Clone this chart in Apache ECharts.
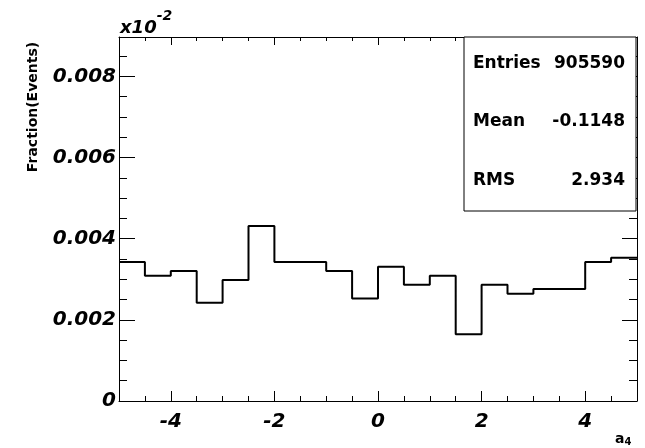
<!DOCTYPE html>
<html>
<head>
<meta charset="utf-8">
<script src="https://cdn.jsdelivr.net/npm/echarts@6/dist/echarts.min.js"></script>
<style>html,body{margin:0;padding:0;background:#fff}#c{width:645px;height:448px}</style>
</head>
<body>
<div id="c"></div>
<script>
// Histogram bin left edges (bin width 0.5) and fractions per bin
const binEdges = [-5, -4.5, -4, -3.5, -3, -2.5, -2, -1.5, -1, -0.5, 0, 0.5, 1, 1.5, 2, 2.5, 3, 3.5, 4, 4.5];
const xMaxEdge = 5;
const fractions = [0.003424, 0.003086, 0.003202, 0.002420, 0.002980, 0.004313, 0.003424, 0.003424, 0.003202, 0.002527,
                   0.003309, 0.002864, 0.003086, 0.001646, 0.002864, 0.002642, 0.002757, 0.002757, 0.003424, 0.003531];
const xMajorTicks = [-4, -2, 0, 2, 4];
const xMinorTicks = [-4.5, -4, -3.5, -3, -2.5, -2, -1.5, -1, -0.5, 0, 0.5, 1, 1.5, 2, 2.5, 3, 3.5, 4, 4.5];
const yMajorTicks = [0, 0.002, 0.004, 0.006, 0.008];
const yMinorTicks = [0.0005, 0.001, 0.0015, 0.002, 0.0025, 0.003, 0.0035, 0.004, 0.0045, 0.005, 0.0055, 0.006, 0.0065, 0.007, 0.0075, 0.008, 0.0085];
const yMax = 0.00897;
const statsLabels = ['Entries', 'Mean', 'RMS'];
const statsValues = ['905590', '-0.1148', '2.934'];

const histData = binEdges.map((x, i) => [x, fractions[i]]);
histData.push([xMaxEdge, fractions[fractions.length - 1]]);

const FONT = 'DejaVu Sans';
const lineStyle = { color: '#000', width: 1 };

function xAx(pos, ticks, len, labels, line) {
  return {
    type: 'value', position: pos, min: -5, max: 5,
    axisLine: { show: line, onZero: false, lineStyle: lineStyle },
    axisTick: { show: true, inside: true, length: len, customValues: ticks, lineStyle: lineStyle },
    axisLabel: labels ? {
      show: true, customValues: xMajorTicks, color: '#000', fontFamily: FONT,
      fontWeight: 'bold', fontStyle: 'italic', fontSize: 20, margin: 11
    } : { show: false },
    splitLine: { show: false }
  };
}
function yAx(pos, ticks, len, labels, line) {
  return {
    type: 'value', position: pos, min: 0, max: yMax,
    axisLine: { show: line, onZero: false, lineStyle: lineStyle },
    axisTick: { show: true, inside: true, length: len, customValues: ticks, lineStyle: lineStyle },
    axisLabel: labels ? {
      show: true, customValues: yMajorTicks, color: '#000', fontFamily: FONT,
      fontWeight: 'bold', fontStyle: 'italic', fontSize: 20, margin: 3,
      formatter: v => (v === 0 ? '0' : v.toFixed(3))
    } : { show: false },
    splitLine: { show: false }
  };
}

const chart = echarts.init(document.getElementById('c'), null, { renderer: 'canvas' });

const statsGraphics = [];
statsLabels.forEach((lab, i) => {
  const yc = 65 + i * 58.5;
  statsGraphics.push({
    type: 'text', left: 473, top: yc - 10, z: 20,
    style: { text: lab, font: 'bold 17px "DejaVu Sans"', fill: '#000' }
  });
  statsGraphics.push({
    type: 'text', right: 645 - 625, top: yc - 10, z: 20,
    style: { text: statsValues[i], font: 'bold 17px "DejaVu Sans"', fill: '#000' }
  });
});

chart.setOption({
  animation: false,
  backgroundColor: '#fff',
  grid: { left: 119, right: 8, top: 37, bottom: 47, containLabel: false },
  xAxis: [
    xAx('bottom', xMajorTicks, 10, true, true),
    xAx('bottom', xMinorTicks, 5, false, false),
    xAx('top', xMajorTicks, 8, false, true),
    xAx('top', xMinorTicks, 4, false, false)
  ],
  yAxis: [
    yAx('left', yMajorTicks, 16, true, true),
    yAx('left', yMinorTicks, 8, false, false),
    yAx('right', yMajorTicks, 15, false, true),
    yAx('right', yMinorTicks, 8, false, false)
  ],
  series: [{
    type: 'line', step: 'end', xAxisIndex: 0, yAxisIndex: 0,
    data: histData, symbol: 'none', clip: true,
    lineStyle: { color: '#000', width: 2 }, z: 5
  }],
  graphic: [
    {
      type: 'rect', z: 15,
      shape: { x: 464, y: 37, width: 172, height: 174 },
      style: { fill: '#fff', stroke: '#000', lineWidth: 1 }
    },
    ...statsGraphics,
    {
      type: 'text', left: 120, top: 9, z: 20,
      style: {
        text: '{a|x10}{b|-2}',
        rich: {
          a: { fontFamily: FONT, fontWeight: 'bold', fontStyle: 'italic', fontSize: 18, fill: '#000', padding: [10, 0, 0, 0] },
          b: { fontFamily: FONT, fontWeight: 'bold', fontStyle: 'italic', fontSize: 14, fill: '#000', verticalAlign: 'top' }
        }
      }
    },
    {
      type: 'text', x: 33, y: 107, rotation: Math.PI / 2, z: 20,
      style: {
        text: 'Fraction(Events)', font: 'bold 14px "DejaVu Sans"', fill: '#000',
        align: 'center', verticalAlign: 'middle'
      }
    },
    {
      type: 'text', left: 615, top: 432, z: 20,
      style: {
        text: '{a|a}{b|4}',
        rich: {
          a: { fontFamily: FONT, fontWeight: 'bold', fontSize: 14, fill: '#000' },
          b: { fontFamily: FONT, fontWeight: 'bold', fontSize: 10, fill: '#000', padding: [7, 0, 0, 0] }
        }
      }
    }
  ]
});
</script>
</body>
</html>
